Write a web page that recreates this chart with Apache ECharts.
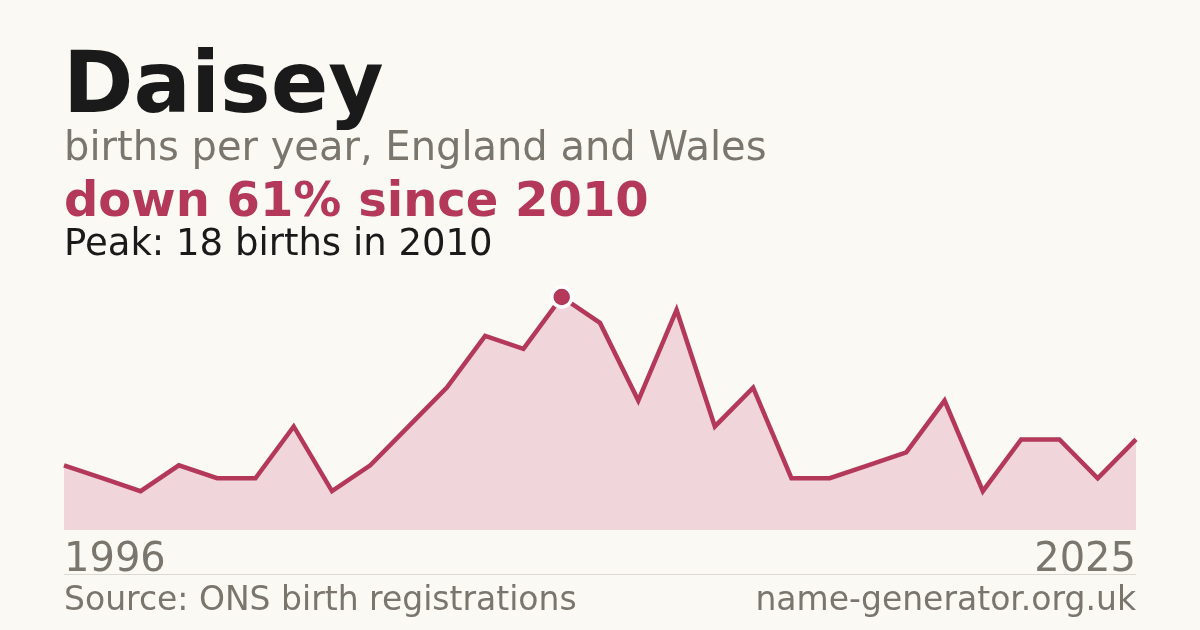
<!DOCTYPE html>
<html>
<head>
<meta charset="utf-8">
<script src="https://cdn.jsdelivr.net/npm/echarts@6/dist/echarts.min.js"></script>
<style>
  html, body { margin: 0; padding: 0; background: #faf9f4; }
  #chart { width: 1200px; height: 630px; }
</style>
</head>
<body>
<div id="chart"></div>
<script>
// Years with published counts (one year before 2010 has no published figure)
const years = [1996, 1998, 1999, 2000, 2001, 2002, 2003, 2004, 2005, 2006,
               2007, 2008, 2009, 2010, 2011, 2012, 2013, 2014, 2015, 2016,
               2017, 2018, 2019, 2020, 2021, 2022, 2023, 2024, 2025];
const births = [5, 4, 3, 5, 4, 4, 8, 3, 5, 8,
                11, 15, 14, 18, 16, 10, 17, 8, 11, 4,
                4, 5, 6, 10, 3, 7, 7, 4, 7];
const nameText = 'Daisey';
const subtitleText = 'births per year, England and Wales';
const sourceText = 'Source: ONS birth registrations';
const siteText = 'name-generator.org.uk';

const peakVal = Math.max(...births);
const peakIdx = births.indexOf(peakVal);
const peakYear = years[peakIdx];
const lastVal = births[births.length - 1];
const changePct = Math.round((peakVal - lastVal) / peakVal * 100);

const crimson = '#b3385a';
const grey = '#7a756d';
const font = 'DejaVu Sans';

const chart = echarts.init(document.getElementById('chart'), null, { renderer: 'canvas' });
chart.setOption({
  backgroundColor: '#faf9f4',
  animation: false,
  grid: { left: 64, right: 64, top: 297, bottom: 100 },
  xAxis: {
    type: 'category',
    data: years.map(String),
    boundaryGap: false,
    show: false
  },
  yAxis: {
    type: 'value',
    min: 0,
    max: peakVal,
    show: false,
    splitLine: { show: false }
  },
  series: [
    {
      type: 'line',
      data: births,
      symbol: 'none',
      lineStyle: { color: crimson, width: 4.5, join: 'miter' },
      areaStyle: { color: '#f0d5da', opacity: 1 },
      z: 2
    },
    {
      type: 'scatter',
      data: [[peakIdx, peakVal]],
      symbol: 'circle',
      symbolSize: 20,
      itemStyle: { color: crimson, borderColor: '#ffffff', borderWidth: 3.5, opacity: 1 },
      z: 3
    }
  ],
  graphic: [
    { type: 'text', left: 63, top: 47, style: { text: nameText, font: 'bold 85px "' + font + '"', fill: '#1a1a1a' } },
    { type: 'text', left: 64, top: 130, style: { text: subtitleText, font: '40px "' + font + '"', fill: grey } },
    { type: 'text', left: 64, top: 180, style: { text: 'down ' + changePct + '% since ' + peakYear, font: 'bold 48px "' + font + '"', fill: crimson } },
    { type: 'text', left: 64, top: 227, style: { text: 'Peak: ' + peakVal + ' births in ' + peakYear, font: '37px "' + font + '"', fill: '#1a1a1a' } },
    { type: 'text', left: 64, top: 541, style: { text: String(years[0]), font: '40px "' + font + '"', fill: grey } },
    { type: 'text', right: 64, top: 541, style: { text: String(years[years.length - 1]), font: '40px "' + font + '"', fill: grey } },
    { type: 'line', shape: { x1: 64, y1: 574.5, x2: 1136, y2: 574.5 }, style: { stroke: '#dcd9d2', lineWidth: 1 } },
    { type: 'text', left: 64, top: 585, style: { text: sourceText, font: '33px "' + font + '"', fill: grey } },
    { type: 'text', right: 64, top: 585, style: { text: siteText, font: '33px "' + font + '"', fill: grey } }
  ]
});
</script>
</body>
</html>
